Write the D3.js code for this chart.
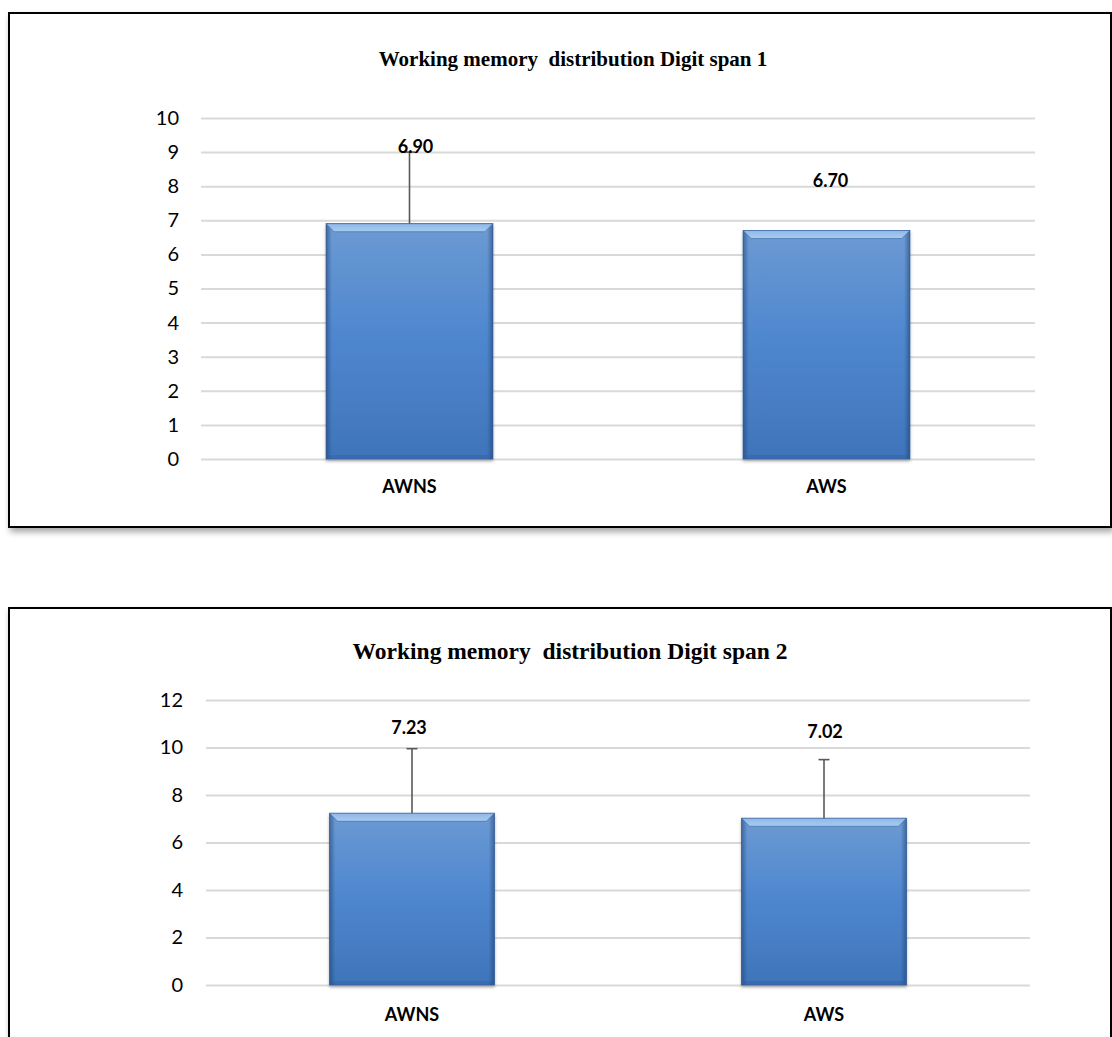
<!DOCTYPE html>
<html>
<head>
<meta charset="utf-8">
<script src="https://cdn.jsdelivr.net/npm/d3@7/dist/d3.min.js"></script>
<style>
  body { margin: 0; background: #fff; }
  svg text { white-space: pre; }
</style>
</head>
<body>
<div id="chart"></div>
<script>
// groups on the x axis
var categories = ["AWNS", "AWS"];

// digit span 1
var span1Title = "Working memory  distribution Digit span 1";
var span1Means = [6.90, 6.70];
var span1ErrUp = [2.1, 0];
var span1Ticks = [0, 1, 2, 3, 4, 5, 6, 7, 8, 9, 10];

// digit span 2
var span2Title = "Working memory  distribution Digit span 2";
var span2Means = [7.23, 7.02];
var span2ErrUp = [2.72, 2.47];
var span2Ticks = [0, 2, 4, 6, 8, 10, 12];

var W = 1112, H = 1037;

var svg = d3.select("#chart").append("svg")
    .attr("width", W)
    .attr("height", H);

var defs = svg.append("defs");

var shadow = defs.append("filter").attr("id", "boxShadow")
    .attr("x", "-5%").attr("y", "-5%").attr("width", "110%").attr("height", "115%");
shadow.append("feDropShadow")
    .attr("dx", 2).attr("dy", 4).attr("stdDeviation", 3)
    .attr("flood-color", "#000").attr("flood-opacity", 0.35);

var barShadow = defs.append("filter").attr("id", "barShadow")
    .attr("x", "-10%").attr("y", "-10%").attr("width", "120%").attr("height", "120%");
barShadow.append("feDropShadow")
    .attr("dx", 0).attr("dy", 2).attr("stdDeviation", 1.5)
    .attr("flood-color", "#000").attr("flood-opacity", 0.3);

var body = defs.append("linearGradient").attr("id", "barBody")
    .attr("x1", 0).attr("y1", 0).attr("x2", 0).attr("y2", 1);
body.append("stop").attr("offset", "0%").attr("stop-color", "#6c9ad3");
body.append("stop").attr("offset", "45%").attr("stop-color", "#5088cf");
body.append("stop").attr("offset", "100%").attr("stop-color", "#3f74ba");

var sides = defs.append("linearGradient").attr("id", "barSides")
    .attr("x1", 0).attr("y1", 0).attr("x2", 1).attr("y2", 0);
sides.append("stop").attr("offset", "0%").attr("stop-color", "#1d3f70").attr("stop-opacity", 0.55);
sides.append("stop").attr("offset", "3.5%").attr("stop-color", "#1d3f70").attr("stop-opacity", 0);
sides.append("stop").attr("offset", "96.5%").attr("stop-color", "#1d3f70").attr("stop-opacity", 0);
sides.append("stop").attr("offset", "100%").attr("stop-color", "#1d3f70").attr("stop-opacity", 0.55);

var topBevel = defs.append("linearGradient").attr("id", "barTop")
    .attr("x1", 0).attr("y1", 0).attr("x2", 0).attr("y2", 1);
topBevel.append("stop").attr("offset", "0%").attr("stop-color", "#8fb8e8");
topBevel.append("stop").attr("offset", "100%").attr("stop-color", "#a9cbf1");

function drawChart(cfg) {
  var box = svg.append("g");
  box.append("rect")
      .attr("x", cfg.box[0]).attr("y", cfg.box[1])
      .attr("width", cfg.box[2]).attr("height", cfg.box[3])
      .attr("fill", "#fff")
      .attr("stroke", "#000")
      .attr("stroke-width", 2)
      .attr("filter", "url(#boxShadow)");

  var g = svg.append("g");

  var x = d3.scaleBand()
      .domain(categories)
      .range([cfg.left, cfg.right])
      .paddingInner(0.6)
      .paddingOuter(0.3);

  var y = d3.scaleLinear()
      .domain([0, d3.max(cfg.ticks)])
      .range([cfg.bottom, cfg.top]);

  // grid + tick labels
  var yAxis = g.append("g")
      .attr("transform", "translate(" + cfg.left + ",0)")
      .call(d3.axisLeft(y).tickValues(cfg.ticks).tickSize(-(cfg.right - cfg.left)).tickPadding(cfg.tickPad));
  yAxis.select(".domain").remove();
  yAxis.selectAll("line").attr("stroke", "#d9d9d9").attr("stroke-width", 2);
  yAxis.selectAll("text")
      .attr("fill", "#000")
      .style("font-family", "Lato, 'Open Sans', sans-serif")
      .style("font-size", "20px");

  // bars
  var bars = g.selectAll(".bar").data(cfg.means).enter().append("g")
      .attr("class", "bar");

  bars.append("rect")
      .attr("x", function(d, i) { return x(categories[i]); })
      .attr("y", function(d) { return y(d); })
      .attr("width", x.bandwidth())
      .attr("height", function(d) { return y(0) - y(d); })
      .attr("fill", "url(#barBody)")
      .attr("stroke", "#3a65a0")
      .attr("stroke-width", 0.8)
      .attr("filter", "url(#barShadow)");

  bars.append("rect")
      .attr("x", function(d, i) { return x(categories[i]); })
      .attr("y", function(d) { return y(d); })
      .attr("width", x.bandwidth())
      .attr("height", function(d) { return y(0) - y(d); })
      .attr("fill", "url(#barSides)");

  var bv = 8;
  bars.append("path")
      .attr("d", function(d, i) {
        var x0 = x(categories[i]), x1 = x0 + x.bandwidth(), y0 = y(d);
        return "M" + x0 + "," + y0 + "L" + x1 + "," + y0 +
               "L" + (x1 - bv) + "," + (y0 + bv) + "L" + (x0 + bv) + "," + (y0 + bv) + "Z";
      })
      .attr("fill", "url(#barTop)")
      .attr("stroke", "#3a65a0")
      .attr("stroke-width", 0.6);

  // bottom shade
  bars.append("rect")
      .attr("x", function(d, i) { return x(categories[i]) + 1; })
      .attr("y", y(0) - 4)
      .attr("width", x.bandwidth() - 2)
      .attr("height", 4)
      .attr("fill", "#2f5d9a")
      .attr("opacity", 0.35);

  // error bars (upper only)
  var err = g.selectAll(".err").data(cfg.errUp).enter().append("g")
      .attr("class", "err")
      .filter(function(d) { return d > 0; });
  err.append("line")
      .attr("x1", function(d, i) { return x(categories[cfg.errUp.indexOf(d)]) + x.bandwidth() / 2; })
      .attr("x2", function(d, i) { return x(categories[cfg.errUp.indexOf(d)]) + x.bandwidth() / 2; })
      .attr("y1", function(d) { return y(cfg.means[cfg.errUp.indexOf(d)]); })
      .attr("y2", function(d) { return y(cfg.means[cfg.errUp.indexOf(d)] + d); })
      .attr("stroke", "#595959")
      .attr("stroke-width", 1.6);
  err.append("line")
      .attr("x1", function(d) { return x(categories[cfg.errUp.indexOf(d)]) + x.bandwidth() / 2 - 5.5; })
      .attr("x2", function(d) { return x(categories[cfg.errUp.indexOf(d)]) + x.bandwidth() / 2 + 5.5; })
      .attr("y1", function(d) { return y(cfg.means[cfg.errUp.indexOf(d)] + d); })
      .attr("y2", function(d) { return y(cfg.means[cfg.errUp.indexOf(d)] + d); })
      .attr("stroke", "#595959")
      .attr("stroke-width", 1.6);

  // value labels
  g.selectAll(".val").data(cfg.means).enter().append("text")
      .attr("class", "val")
      .attr("x", function(d, i) { return x(categories[i]) + x.bandwidth() / 2 + cfg.labelDx[i]; })
      .attr("y", function(d, i) { return y(cfg.labelAt[i]); })
      .attr("dy", "0.35em")
      .attr("text-anchor", "middle")
      .style("font-family", "Lato, 'Open Sans', sans-serif")
      .style("font-weight", "bold")
      .style("font-size", "18px")
      .text(function(d) { return d3.format(".2f")(d); });

  // category labels
  g.selectAll(".cat").data(categories).enter().append("text")
      .attr("class", "cat")
      .attr("x", function(d) { return x(d) + x.bandwidth() / 2; })
      .attr("y", cfg.catY)
      .attr("text-anchor", "middle")
      .style("font-family", "Lato, 'Open Sans', sans-serif")
      .style("font-weight", "bold")
      .style("font-size", "18px")
      .text(function(d) { return d; });

  // title
  g.append("text")
      .attr("x", cfg.titleX)
      .attr("y", cfg.titleY)
      .attr("text-anchor", "middle")
      .style("font-family", "'Liberation Serif', 'Times New Roman', serif")
      .style("font-weight", "bold")
      .style("font-size", cfg.titleSize + "px")
      .text(cfg.title);
}

drawChart({
  box: [9, 13, 1102, 514],
  left: 201, right: 1035, top: 118, bottom: 459,
  ticks: span1Ticks, means: span1Means, errUp: span1ErrUp,
  labelAt: [9.15, 8.15], labelDx: [6, 4],
  tickPad: 22, catY: 493,
  title: span1Title, titleX: 573, titleY: 66, titleSize: 21
});

drawChart({
  box: [9, 608, 1102, 440],
  left: 206, right: 1030, top: 700, bottom: 985,
  ticks: span2Ticks, means: span2Means, errUp: span2ErrUp,
  labelAt: [10.83, 10.68], labelDx: [-3, 1],
  tickPad: 23, catY: 1021,
  title: span2Title, titleX: 570, titleY: 659, titleSize: 23.5
});
</script>
</body>
</html>
